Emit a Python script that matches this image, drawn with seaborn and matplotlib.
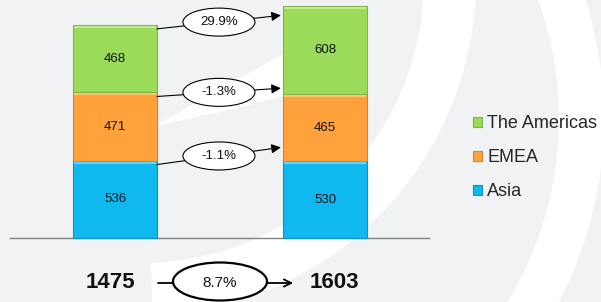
import numpy as np
import pandas as pd
import matplotlib
matplotlib.use('Agg')
import matplotlib.pyplot as plt
import seaborn as sns
from matplotlib.patches import Ellipse, Wedge, Polygon

# data
periods = ['Before', 'After']
regions = ['Asia', 'EMEA', 'The Americas']
asia = [536, 530]
emea = [471, 465]
americas = [468, 608]

colors = {'Asia': '#0fb9f0', 'EMEA': '#ffa23c', 'The Americas': '#9bdb5a'}
edges = {'Asia': '#0b94c2', 'EMEA': '#d9832b', 'The Americas': '#7cb544'}
highlights = {'Asia': '#5fd6fb', 'EMEA': '#ffc46e', 'The Americas': '#c0ec8c'}

sns.set_theme(style='white')
plt.rcParams['font.family'] = ['Liberation Sans', 'DejaVu Sans']

bg = '#f1f2f4'
fig = plt.figure(figsize=(6.01, 3.02), dpi=100, facecolor=bg)

# faint watermark swooshes in the background (pixel space)
wm = fig.add_axes([0, 0, 1, 1], zorder=0)
wm.set_xlim(0, 601)
wm.set_ylim(302, 0)
wm.axis('off')
wm.add_patch(Wedge((209, 119), 395, -40, 50, width=45, color='white', lw=0))
wm.add_patch(Wedge((141, -20), 335, -10, 88, width=52, color='white', lw=0))
wm.add_patch(Polygon([(155, 126), (225, 86), (300, 45), (300, 92), (225, 111)],
                     color='white', lw=0))

ax = fig.add_axes([0, 0, 1, 1], zorder=1)
ax.set_facecolor('none')

df = pd.DataFrame({'period': periods, 'Asia': asia, 'EMEA': emea,
                   'The Americas': americas})

s = 0.1445  # px per unit

# stacked bars
bottom = np.zeros(len(periods))
tops = {}
for reg in regions:
    sns.barplot(data=df, x='period', y=reg, color=colors[reg], width=0.4,
                bottom=bottom, edgecolor=edges[reg], linewidth=0.8,
                saturation=1, errorbar=None, label=reg, ax=ax)
    ax.bar_label(ax.containers[-1], labels=[str(v) for v in df[reg]],
                 label_type='center', fontsize=9.5, color='#111111')
    bottom = bottom + df[reg].values
    tops[reg] = bottom.copy()
    # light bevel strip along the top of each segment
    for i in range(len(periods)):
        ax.hlines(bottom[i] - 2 / s, i - 0.195, i + 0.195,
                  color=highlights[reg], lw=1.5, zorder=2.5)

if ax.get_legend() is not None:
    ax.get_legend().remove()

ax.set_ylim(-(302 - 238) / s, 238 / s)
ax.set_xlim(-115 / 210, 486 / 210)
ax.axis('off')

ax.hlines(0, -0.505, 1.5, color='#808080', lw=1, zorder=0.5)

# growth arrows between the bars
start_dy = -4      # px below the top of the left segment
end_dy = {'Asia': 14, 'EMEA': 6, 'The Americas': -9}
for reg in regions:
    y0 = tops[reg][0] + start_dy / s
    y1 = tops[reg][1] + end_dy[reg] / s
    x0, x1 = 0.2, 0.79
    ax.annotate('', xy=(x1, y1), xytext=(x0, y0),
                arrowprops=dict(arrowstyle='-|>', color='black', lw=0.8,
                                mutation_scale=14, shrinkA=0, shrinkB=0),
                zorder=3)
    xm, ym = (x0 + x1) / 2, (y0 + y1) / 2
    ax.add_patch(Ellipse((xm, ym), 72 / 210, 28 / s, facecolor='white',
                         edgecolor='black', lw=0.8, zorder=4))
    vals = df[reg].values
    pct = (vals[1] - vals[0]) / vals[0] * 100
    ax.text(xm, ym, f'{pct:.1f}%', ha='center', va='center', fontsize=9.5,
            color='#111111', zorder=5)

# totals
totals = tops['The Americas']
ty = (238 - 283) / s
ax.text(-0.02, ty, f'{totals[0]:.0f}', ha='center', va='center',
        fontsize=16, fontweight='bold', color='#111111')
ax.text(1.045, ty, f'{totals[1]:.0f}', ha='center', va='center',
        fontsize=16, fontweight='bold', color='#111111')
ax.annotate('', xy=(0.848, ty), xytext=(0.205, ty),
            arrowprops=dict(arrowstyle='->', color='black', lw=1.3,
                            mutation_scale=13, shrinkA=0, shrinkB=0),
            zorder=3)
ax.add_patch(Ellipse((0.5, (238 - 281.5) / s), 94 / 210, 38 / s,
                     facecolor='white', edgecolor='black', lw=1.6, zorder=4))
tot_pct = (totals[1] - totals[0]) / totals[0] * 100
ax.text(0.5, ty, f'{tot_pct:.1f}%', ha='center', va='center', fontsize=11,
        color='#111111', zorder=5)

# legend
handles = [h for h in ax.containers]
fig.legend(handles[::-1], regions[::-1], loc='upper left',
           bbox_to_anchor=(473 / 601, 1 - 115.5 / 302),
           frameon=False, fontsize=13, handlelength=0.5, handleheight=0.5,
           handletextpad=0.3, labelspacing=0.94, borderpad=0,
           borderaxespad=0)

fig.savefig('out.png', dpi=100, facecolor=bg)
